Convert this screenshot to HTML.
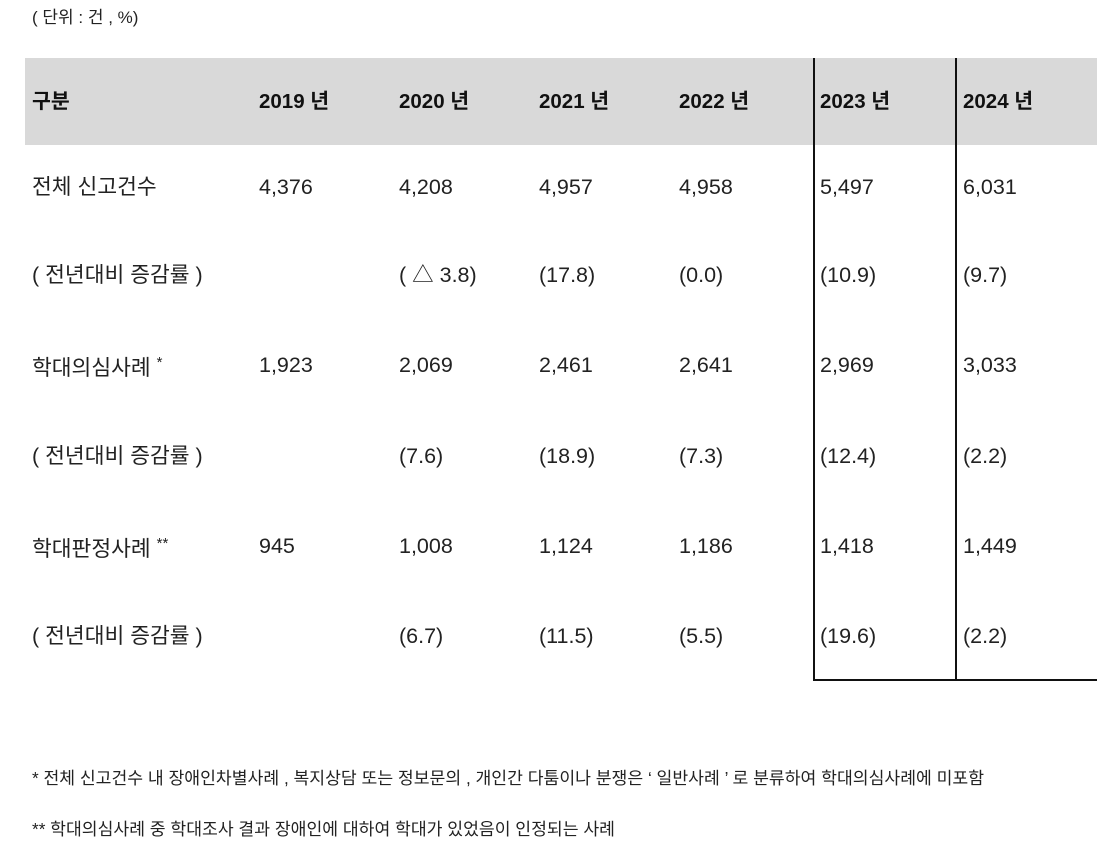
<!DOCTYPE html>
<html><head><meta charset="utf-8"><style>
body{margin:0;width:1115px;height:859px;background:#fff;position:relative;overflow:hidden;font-family:"Liberation Sans","Noto Sans CJK KR",sans-serif;color:#222}
.t{position:absolute;white-space:nowrap;line-height:1}
.h{font-weight:bold;font-size:20.5px;color:#111}
.d{font-size:21.5px}
.l{font-size:21.5px}
.f{font-size:17.2px;color:#222}
</style></head><body>
<div class="t f" style="left:32px;top:9px;font-size:17px">( 단위 : 건 , %)</div>
<div style="position:absolute;left:25px;top:58px;width:1072px;height:87px;background:#d9d9d9"></div>
<div style="position:absolute;left:813px;top:58px;width:2px;height:623px;background:#111"></div>
<div style="position:absolute;left:955px;top:58px;width:2px;height:623px;background:#111"></div>
<div style="position:absolute;left:813px;top:679px;width:284px;height:2px;background:#111"></div>
<div class="t h" style="left:32px;top:92px">구분</div>
<div class="t h" style="left:259px;top:92px">2019 년</div>
<div class="t h" style="left:399px;top:92px">2020 년</div>
<div class="t h" style="left:539px;top:92px">2021 년</div>
<div class="t h" style="left:679px;top:92px">2022 년</div>
<div class="t h" style="left:820px;top:92px">2023 년</div>
<div class="t h" style="left:963px;top:92px">2024 년</div>

<div class="t l" style="left:32px;top:177px">전체 신고건수</div>
<div class="t d" style="left:259px;top:177px">4,376</div>
<div class="t d" style="left:399px;top:177px">4,208</div>
<div class="t d" style="left:539px;top:177px">4,957</div>
<div class="t d" style="left:679px;top:177px">4,958</div>
<div class="t d" style="left:820px;top:177px">5,497</div>
<div class="t d" style="left:963px;top:177px">6,031</div>

<div class="t l" style="left:32px;top:265px">( 전년대비 증감률 )</div>
<div class="t d" style="left:399px;top:265px">( △ 3.8)</div>
<div class="t d" style="left:539px;top:265px">(17.8)</div>
<div class="t d" style="left:679px;top:265px">(0.0)</div>
<div class="t d" style="left:820px;top:265px">(10.9)</div>
<div class="t d" style="left:963px;top:265px">(9.7)</div>

<div class="t l" style="left:32px;top:355px">학대의심사례 <sup style="font-size:15px;vertical-align:8px">*</sup></div>
<div class="t d" style="left:259px;top:355px">1,923</div>
<div class="t d" style="left:399px;top:355px">2,069</div>
<div class="t d" style="left:539px;top:355px">2,461</div>
<div class="t d" style="left:679px;top:355px">2,641</div>
<div class="t d" style="left:820px;top:355px">2,969</div>
<div class="t d" style="left:963px;top:355px">3,033</div>

<div class="t l" style="left:32px;top:446px">( 전년대비 증감률 )</div>
<div class="t d" style="left:399px;top:446px">(7.6)</div>
<div class="t d" style="left:539px;top:446px">(18.9)</div>
<div class="t d" style="left:679px;top:446px">(7.3)</div>
<div class="t d" style="left:820px;top:446px">(12.4)</div>
<div class="t d" style="left:963px;top:446px">(2.2)</div>

<div class="t l" style="left:32px;top:536px">학대판정사례 <sup style="font-size:15px;vertical-align:8px">**</sup></div>
<div class="t d" style="left:259px;top:536px">945</div>
<div class="t d" style="left:399px;top:536px">1,008</div>
<div class="t d" style="left:539px;top:536px">1,124</div>
<div class="t d" style="left:679px;top:536px">1,186</div>
<div class="t d" style="left:820px;top:536px">1,418</div>
<div class="t d" style="left:963px;top:536px">1,449</div>

<div class="t l" style="left:32px;top:626px">( 전년대비 증감률 )</div>
<div class="t d" style="left:399px;top:626px">(6.7)</div>
<div class="t d" style="left:539px;top:626px">(11.5)</div>
<div class="t d" style="left:679px;top:626px">(5.5)</div>
<div class="t d" style="left:820px;top:626px">(19.6)</div>
<div class="t d" style="left:963px;top:626px">(2.2)</div>

<div class="t f" style="left:32px;top:770px">* 전체 신고건수 내 장애인차별사례 , 복지상담 또는 정보문의 , 개인간 다툼이나 분쟁은 ‘ 일반사례 ’ 로 분류하여 학대의심사례에 미포함</div>
<div class="t f" style="left:32px;top:821px">** 학대의심사례 중 학대조사 결과 장애인에 대하여 학대가 있었음이 인정되는 사례</div>
</body></html>
